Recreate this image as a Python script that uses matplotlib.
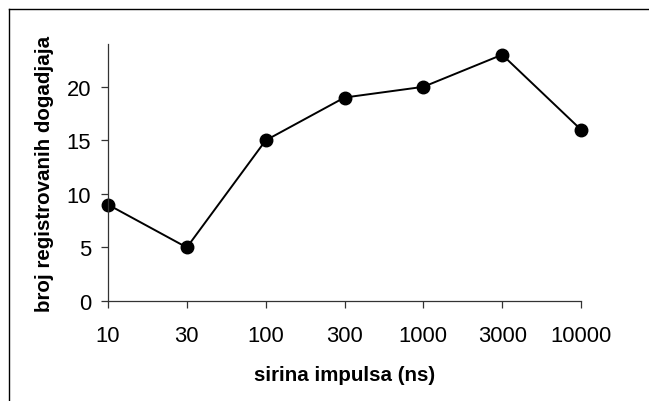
import matplotlib.pyplot as plt
from matplotlib.lines import Line2D

# pulse widths (ns) and number of registered events
widths = ["10", "30", "100", "300", "1000", "3000", "10000"]
events = [9, 5, 15, 19, 20, 23, 16]
yticks = [0, 5, 10, 15, 20]

plt.rcParams['font.family'] = ['Liberation Sans', 'DejaVu Sans']

W, H = 649, 402
fig = plt.figure(figsize=(W / 100, H / 100), dpi=100)
ax = fig.add_axes([108 / W, 1 - 302 / H, (581 - 108) / W, (302 - 45) / H])

x = list(range(len(widths)))
ax.plot(x, events, color='black', linewidth=1.4, marker='o', markersize=9,
        markerfacecolor='black', markeredgecolor='black', clip_on=False)

ax.set_xlim(0, len(widths) - 1)
ax.set_ylim(0, 24)
ax.set_xticks(x)
ax.set_xticklabels(widths)
ax.set_yticks(yticks)

for s in ['top', 'right']:
    ax.spines[s].set_visible(False)
for s in ['left', 'bottom']:
    ax.spines[s].set_linewidth(0.9)
    ax.spines[s].set_color('#333333')

ax.tick_params(axis='both', labelsize=15.8, color='#333333', width=0.9, length=5)
ax.tick_params(axis='x', pad=12)
ax.tick_params(axis='y', pad=7)

ax.set_xlabel("sirina impulsa (ns)", fontsize=14.8, fontweight='bold', labelpad=14)
ax.set_ylabel("broj registrovanih dogadjaja", fontsize=14.8, fontweight='bold', labelpad=9)

# outer chart border (cropped: only top and left visible)
fig.add_artist(Line2D([9 / W, 1], [1 - 10 / H, 1 - 10 / H], color='black', linewidth=1.0))
fig.add_artist(Line2D([9 / W, 9 / W], [0, 1 - 10 / H], color='black', linewidth=1.0))

fig.savefig("out.png", dpi=100)
